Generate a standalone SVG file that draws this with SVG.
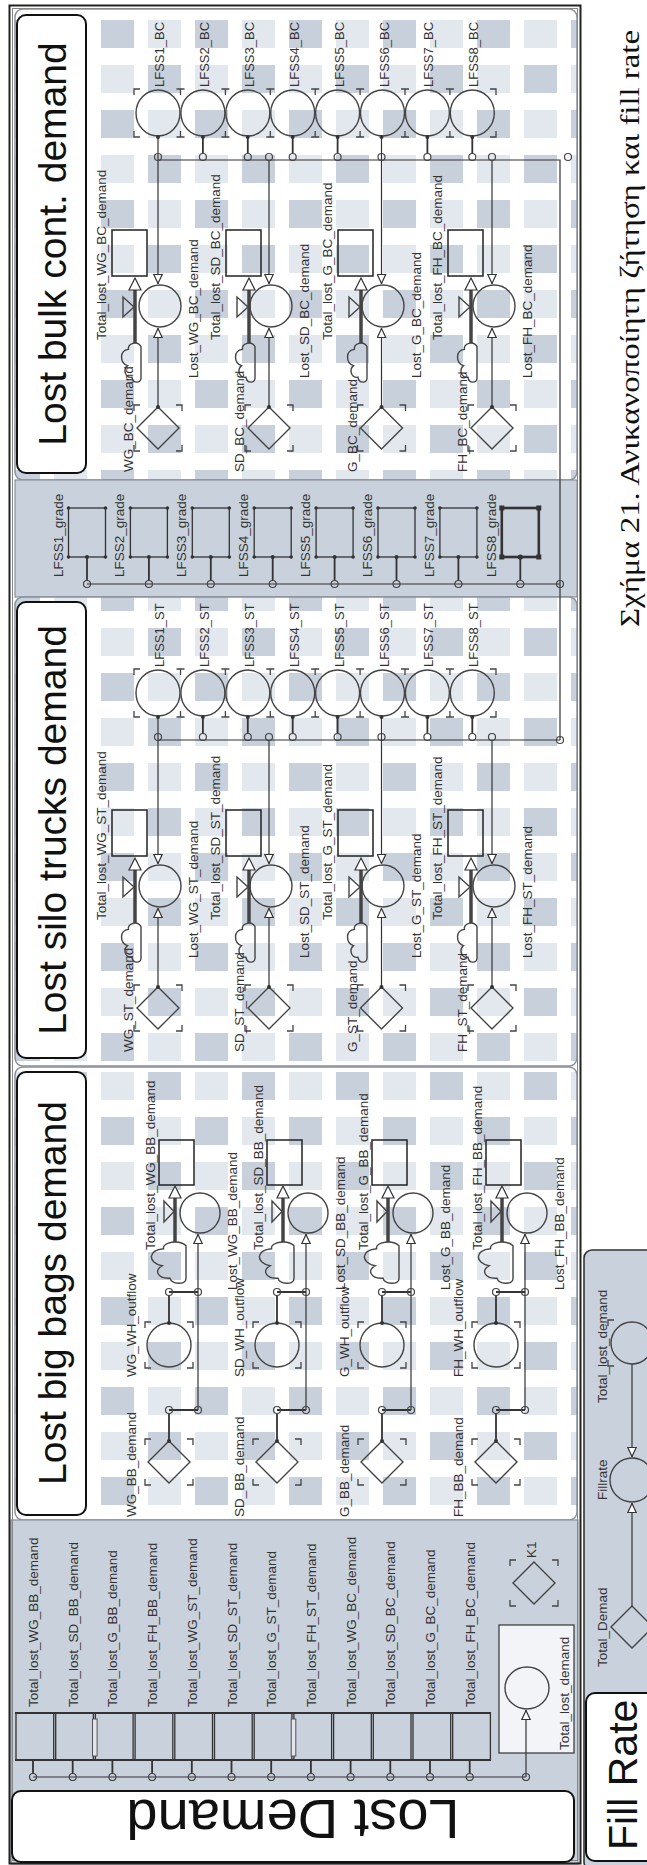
<svg xmlns="http://www.w3.org/2000/svg" width="647" height="1865" viewBox="0 0 647 1865">
<style>
.t{font-family:"Liberation Sans",Arial,sans-serif;font-size:13.5px;fill:#333}
.ts{font-family:"Liberation Sans",Arial,sans-serif;font-size:13px;fill:#333}
.ttl{font-family:"Liberation Sans",Arial,sans-serif;font-size:39px;fill:#111;text-anchor:middle}
.cap{font-family:"Liberation Serif","Times New Roman","DejaVu Serif",serif;font-size:28px;fill:#111}
.ln{stroke:#333;stroke-width:1.2;fill:none}
.lk{stroke:#333;stroke-width:1.8;fill:none}
.nd{stroke:#444;stroke-width:1.4;fill:none}
.st{stroke:#222;stroke-width:1.5;fill:none}
.pipe{stroke:#444;stroke-width:3.5;fill:none}
.br{stroke:#444;stroke-width:1.3;fill:none}
.cc{stroke:#444;stroke-width:1.2;fill:none}
.dot{fill:#333}
.ah{fill:#fff;stroke:#333;stroke-width:1.2}
.lbox{fill:#fff;stroke:#111;stroke-width:2}
.gp{fill:#c9d1dc;stroke:#8a909a;stroke-width:1.2}
.sq{fill:none;stroke:#333;stroke-width:1.3}
.pw{fill:#ffffff}
.pg{fill:#c8d0dc}
.pl{fill:#e3e7ee}
</style>
<defs>
<g id="cell">
<rect width="94" height="90" class="pw"/>
<rect x="0" y="0" width="33" height="28" class="pg"/>
<rect x="47" y="45" width="33" height="28" class="pg"/>
<rect x="47" y="0" width="33" height="28" class="pl"/>
<rect x="0" y="45" width="33" height="28" class="pl"/>
</g>
<pattern id="gbc" patternUnits="userSpaceOnUse" x="7" y="20" width="94" height="90"><use href="#cell"/></pattern>
<pattern id="gst" patternUnits="userSpaceOnUse" x="7" y="673" width="94" height="90"><use href="#cell"/></pattern>
<pattern id="gbb" patternUnits="userSpaceOnUse" x="7" y="1117" width="94" height="90"><use href="#cell"/></pattern>
<marker id="a" viewBox="0 0 10 10" refX="10" refY="5" markerWidth="10" markerHeight="10" markerUnits="userSpaceOnUse" orient="auto"><path d="M0.5,0.8 L9.5,5 L0.5,9.2 Z" fill="#fff" stroke="#333" stroke-width="1.2"/></marker>
<path id="cloud" vector-effect="non-scaling-stroke" d="M10,18 C10,24 1,24 0,17 C-8,18 -10,8 -5,4 C-14,1 -14,-13 -4,-14 C-5,-21 6,-24 10,-17 Z"/>
<path id="dia" d="M0,-21L21,0L0,21L-21,0Z"/>
<path id="brk" d="M-24,-17V-23H-18M18,-23H24V-17M24,17V23H18M-18,23H-24V17"/>
<g id="lfssrow">
<ellipse class="nd" cx="158" cy="113" rx="22" ry="23"/>
<ellipse class="nd" cx="202.9" cy="113" rx="22" ry="23"/>
<ellipse class="nd" cx="247.8" cy="113" rx="22" ry="23"/>
<ellipse class="nd" cx="292.7" cy="113" rx="22" ry="23"/>
<ellipse class="nd" cx="337.6" cy="113" rx="22" ry="23"/>
<ellipse class="nd" cx="382.5" cy="113" rx="22" ry="23"/>
<ellipse class="nd" cx="427.4" cy="113" rx="22" ry="23"/>
<ellipse class="nd" cx="472.3" cy="113" rx="22" ry="23"/>
<path class="br" d="M134,95V89H140M490,89H496V95M496,131V137H490M140,137H134V131M176.5,89H184.5M180.5,89V95M176.5,137H184.5M180.5,137V131M221.4,89H229.4M225.4,89V95M221.4,137H229.4M225.4,137V131M266.3,89H274.3M270.3,89V95M266.3,137H274.3M270.3,137V131M311.2,89H319.2M315.2,89V95M311.2,137H319.2M315.2,137V131M356.1,89H364.1M360.1,89V95M356.1,137H364.1M360.1,137V131M401,89H409M405,89V95M401,137H409M405,137V131M445.9,89H453.9M449.9,89V95M445.9,137H453.9M449.9,137V131"/>
</g>
</defs>
<rect width="647" height="1865" fill="#ffffff"/>

<g id="panels">
<rect x="15" y="9" width="562" height="471" rx="8" fill="url(#gbc)" stroke="#8a909a" stroke-width="1.5"/>
<rect class="gp" x="15" y="480" width="562" height="117"/>
<rect x="15" y="597" width="562" height="469" rx="8" fill="url(#gst)" stroke="#8a909a" stroke-width="1.5"/>
<rect x="15" y="1067" width="562" height="453" rx="8" fill="url(#gbb)" stroke="#8a909a" stroke-width="1.5"/>
<rect class="gp" x="11" y="1520" width="567" height="344"/>
<rect class="gp" x="584" y="1250" width="80" height="620" rx="8" style="stroke:#333;stroke-width:1.6"/>
<rect x="9.5" y="5.5" width="571" height="1858" fill="none" stroke="#222" stroke-width="2"/>
<rect x="12.5" y="8.5" width="565" height="1852" fill="none" stroke="#888" stroke-width="1"/>
</g>

<g id="title-bc"><rect class="lbox" x="17" y="15" width="69" height="458" rx="9"/><text class="ttl" transform="translate(66,244) rotate(-90)">Lost bulk cont. demand</text></g>
<g id="title-st"><rect class="lbox" x="17" y="602" width="69" height="456" rx="9"/><text class="ttl" transform="translate(66,830) rotate(-90)">Lost silo trucks demand</text></g>
<g id="title-bb"><rect class="lbox" x="17" y="1072" width="69" height="443" rx="9"/><text class="ttl" transform="translate(66,1293) rotate(-90)">Lost big bags demand</text></g>
<g id="title-ld"><rect class="lbox" x="12" y="1791" width="562" height="71" rx="9"/><text class="ttl" style="font-size:56px" transform="translate(293,1800) rotate(180)">Lost Demand</text></g>
<g id="title-fr"><rect class="lbox" x="586" y="1693" width="80" height="168" rx="9"/><text class="ttl" style="font-size:41px;text-anchor:start" transform="translate(637,1850) rotate(-90)">Fill Rate</text></g>
<g id="caption"><text class="cap" transform="translate(639,627) rotate(-90)" textLength="597" lengthAdjust="spacingAndGlyphs">Σχήμα 21. Ανικανοποίητη ζήτηση και fill rate</text></g>

<g id="lfss-bc">
<use href="#lfssrow"/>
<text class="ts" transform="translate(164,87) rotate(-90)">LFSS1_BC</text>
<text class="ts" transform="translate(208.9,87) rotate(-90)">LFSS2_BC</text>
<text class="ts" transform="translate(253.8,87) rotate(-90)">LFSS3_BC</text>
<text class="ts" transform="translate(298.7,87) rotate(-90)">LFSS4_BC</text>
<text class="ts" transform="translate(343.6,87) rotate(-90)">LFSS5_BC</text>
<text class="ts" transform="translate(388.5,87) rotate(-90)">LFSS6_BC</text>
<text class="ts" transform="translate(433.4,87) rotate(-90)">LFSS7_BC</text>
<text class="ts" transform="translate(478.3,87) rotate(-90)">LFSS8_BC</text>
</g>
<g id="lfss-st">
<use href="#lfssrow" y="580"/>
<text class="ts" transform="translate(164,667) rotate(-90)">LFSS1_ST</text>
<text class="ts" transform="translate(208.9,667) rotate(-90)">LFSS2_ST</text>
<text class="ts" transform="translate(253.8,667) rotate(-90)">LFSS3_ST</text>
<text class="ts" transform="translate(298.7,667) rotate(-90)">LFSS4_ST</text>
<text class="ts" transform="translate(343.6,667) rotate(-90)">LFSS5_ST</text>
<text class="ts" transform="translate(388.5,667) rotate(-90)">LFSS6_ST</text>
<text class="ts" transform="translate(433.4,667) rotate(-90)">LFSS7_ST</text>
<text class="ts" transform="translate(478.3,667) rotate(-90)">LFSS8_ST</text>
</g>

<g id="grade">
<rect class="sq" x="68.5" y="508" width="37" height="49"/>
<rect class="sq" x="130.4" y="508" width="37" height="49"/>
<rect class="sq" x="192.3" y="508" width="37" height="49"/>
<rect class="sq" x="254.2" y="508" width="37" height="49"/>
<rect class="sq" x="316.1" y="508" width="37" height="49"/>
<rect class="sq" x="378" y="508" width="37" height="49"/>
<rect class="sq" x="439.9" y="508" width="37" height="49"/>
<rect class="sq" x="501.8" y="508" width="37" height="49" style="stroke-width:2.6"/>
<g class="dot">
<circle cx="68.5" cy="508" r="1.8"/><circle cx="105.5" cy="508" r="1.8"/><circle cx="68.5" cy="557" r="1.8"/><circle cx="105.5" cy="557" r="1.8"/>
<circle cx="130.4" cy="508" r="1.8"/><circle cx="167.4" cy="508" r="1.8"/><circle cx="130.4" cy="557" r="1.8"/><circle cx="167.4" cy="557" r="1.8"/>
<circle cx="192.3" cy="508" r="1.8"/><circle cx="229.3" cy="508" r="1.8"/><circle cx="192.3" cy="557" r="1.8"/><circle cx="229.3" cy="557" r="1.8"/>
<circle cx="254.2" cy="508" r="1.8"/><circle cx="291.2" cy="508" r="1.8"/><circle cx="254.2" cy="557" r="1.8"/><circle cx="291.2" cy="557" r="1.8"/>
<circle cx="316.1" cy="508" r="1.8"/><circle cx="353.1" cy="508" r="1.8"/><circle cx="316.1" cy="557" r="1.8"/><circle cx="353.1" cy="557" r="1.8"/>
<circle cx="378" cy="508" r="1.8"/><circle cx="415" cy="508" r="1.8"/><circle cx="378" cy="557" r="1.8"/><circle cx="415" cy="557" r="1.8"/>
<circle cx="439.9" cy="508" r="1.8"/><circle cx="476.9" cy="508" r="1.8"/><circle cx="439.9" cy="557" r="1.8"/><circle cx="476.9" cy="557" r="1.8"/>
<rect x="499.3" y="505.5" width="5" height="5"/><rect x="536.3" y="505.5" width="5" height="5"/><rect x="499.3" y="554.5" width="5" height="5"/><rect x="536.3" y="554.5" width="5" height="5"/>
</g>
<text class="t" transform="translate(62.5,577) rotate(-90)">LFSS1_grade</text>
<text class="t" transform="translate(124.4,577) rotate(-90)">LFSS2_grade</text>
<text class="t" transform="translate(186.3,577) rotate(-90)">LFSS3_grade</text>
<text class="t" transform="translate(248.2,577) rotate(-90)">LFSS4_grade</text>
<text class="t" transform="translate(310.1,577) rotate(-90)">LFSS5_grade</text>
<text class="t" transform="translate(372,577) rotate(-90)">LFSS6_grade</text>
<text class="t" transform="translate(433.9,577) rotate(-90)">LFSS7_grade</text>
<text class="t" transform="translate(495.8,577) rotate(-90)">LFSS8_grade</text>
</g>

<g id="bc-wg">
<rect class="st" x="112" y="230" width="35" height="46"/>
<line class="pipe" x1="135" y1="290" x2="135" y2="343"/><path class="ah" d="M129,290H141L135,278Z"/>
<path class="nd" d="M123,297V317L134,307Z"/>
<circle class="nd" cx="160" cy="306" r="21"/>
<use href="#cloud" class="nd" transform="translate(132,362) scale(0.9)"/>
<use href="#dia" class="nd" x="158" y="428"/><use href="#brk" class="br" x="158" y="428"/>
<text class="t" transform="translate(106,340) rotate(-90)">Total_lost_WG_BC_demand</text>
<text class="t" transform="translate(198,378) rotate(-90)">Lost_WG_BC_demand</text>
<text class="t" transform="translate(133,472) rotate(-90)">WG_BC_demand</text>
</g>
<g id="bc-sd">
<rect class="st" x="226" y="230" width="35" height="46"/>
<line class="pipe" x1="249" y1="290" x2="249" y2="343"/><path class="ah" d="M243,290H255L249,278Z"/>
<path class="nd" d="M237,297V317L248,307Z"/>
<circle class="nd" cx="271" cy="306" r="21"/>
<use href="#cloud" class="nd" transform="translate(246,362) scale(0.9)"/>
<use href="#dia" class="nd" x="269" y="428"/><use href="#brk" class="br" x="269" y="428"/>
<text class="t" transform="translate(220,340) rotate(-90)">Total_lost_SD_BC_demand</text>
<text class="t" transform="translate(309,378) rotate(-90)">Lost_SD_BC_demand</text>
<text class="t" transform="translate(244,472) rotate(-90)">SD_BC_demand</text>
</g>
<g id="bc-g">
<rect class="st" x="338" y="230" width="35" height="46"/>
<line class="pipe" x1="361" y1="290" x2="361" y2="343"/><path class="ah" d="M355,290H367L361,278Z"/>
<path class="nd" d="M349,297V317L360,307Z"/>
<circle class="nd" cx="383" cy="306" r="21"/>
<use href="#cloud" class="nd" transform="translate(358,362) scale(0.9)"/>
<use href="#dia" class="nd" x="381.5" y="428"/><use href="#brk" class="br" x="381.5" y="428"/>
<text class="t" transform="translate(332,340) rotate(-90)">Total_lost_G_BC_demand</text>
<text class="t" transform="translate(421,378) rotate(-90)">Lost_G_BC_demand</text>
<text class="t" transform="translate(356.5,472) rotate(-90)">G_BC_demand</text>
</g>
<g id="bc-fh">
<rect class="st" x="448" y="230" width="35" height="46"/>
<line class="pipe" x1="471" y1="290" x2="471" y2="343"/><path class="ah" d="M465,290H477L471,278Z"/>
<path class="nd" d="M459,297V317L470,307Z"/>
<circle class="nd" cx="494" cy="306" r="21"/>
<use href="#cloud" class="nd" transform="translate(468,362) scale(0.9)"/>
<use href="#dia" class="nd" x="492" y="428"/><use href="#brk" class="br" x="492" y="428"/>
<text class="t" transform="translate(442,340) rotate(-90)">Total_lost_FH_BC_demand</text>
<text class="t" transform="translate(532,378) rotate(-90)">Lost_FH_BC_demand</text>
<text class="t" transform="translate(467,472) rotate(-90)">FH_BC_demand</text>
</g>

<g id="st-wg">
<rect class="st" x="112" y="810" width="35" height="46"/>
<line class="pipe" x1="135" y1="870" x2="135" y2="923"/><path class="ah" d="M129,870H141L135,858Z"/>
<path class="nd" d="M123,877V897L134,887Z"/>
<circle class="nd" cx="160" cy="886" r="21"/>
<use href="#cloud" class="nd" transform="translate(132,942) scale(0.9)"/>
<use href="#dia" class="nd" x="158" y="1008"/><use href="#brk" class="br" x="158" y="1008"/>
<text class="t" transform="translate(106,920) rotate(-90)">Total_lost_WG_ST_demand</text>
<text class="t" transform="translate(198,958) rotate(-90)">Lost_WG_ST_demand</text>
<text class="t" transform="translate(133,1052) rotate(-90)">WG_ST_demand</text>
</g>
<g id="st-sd">
<rect class="st" x="226" y="810" width="35" height="46"/>
<line class="pipe" x1="249" y1="870" x2="249" y2="923"/><path class="ah" d="M243,870H255L249,858Z"/>
<path class="nd" d="M237,877V897L248,887Z"/>
<circle class="nd" cx="271" cy="886" r="21"/>
<use href="#cloud" class="nd" transform="translate(246,942) scale(0.9)"/>
<use href="#dia" class="nd" x="269" y="1008"/><use href="#brk" class="br" x="269" y="1008"/>
<text class="t" transform="translate(220,920) rotate(-90)">Total_lost_SD_ST_demand</text>
<text class="t" transform="translate(309,958) rotate(-90)">Lost_SD_ST_demand</text>
<text class="t" transform="translate(244,1052) rotate(-90)">SD_ST_demand</text>
</g>
<g id="st-g">
<rect class="st" x="338" y="810" width="35" height="46"/>
<line class="pipe" x1="361" y1="870" x2="361" y2="923"/><path class="ah" d="M355,870H367L361,858Z"/>
<path class="nd" d="M349,877V897L360,887Z"/>
<circle class="nd" cx="383" cy="886" r="21"/>
<use href="#cloud" class="nd" transform="translate(358,942) scale(0.9)"/>
<use href="#dia" class="nd" x="381.5" y="1008"/><use href="#brk" class="br" x="381.5" y="1008"/>
<text class="t" transform="translate(332,920) rotate(-90)">Total_lost_G_ST_demand</text>
<text class="t" transform="translate(421,958) rotate(-90)">Lost_G_ST_demand</text>
<text class="t" transform="translate(356.5,1052) rotate(-90)">G_ST_demand</text>
</g>
<g id="st-fh">
<rect class="st" x="448" y="810" width="35" height="46"/>
<line class="pipe" x1="471" y1="870" x2="471" y2="923"/><path class="ah" d="M465,870H477L471,858Z"/>
<path class="nd" d="M459,877V897L470,887Z"/>
<circle class="nd" cx="494" cy="886" r="21"/>
<use href="#cloud" class="nd" transform="translate(468,942) scale(0.9)"/>
<use href="#dia" class="nd" x="492" y="1008"/><use href="#brk" class="br" x="492" y="1008"/>
<text class="t" transform="translate(442,920) rotate(-90)">Total_lost_FH_ST_demand</text>
<text class="t" transform="translate(532,958) rotate(-90)">Lost_FH_ST_demand</text>
<text class="t" transform="translate(467,1052) rotate(-90)">FH_ST_demand</text>
</g>

<g id="bb-wg">
<rect class="st" x="159" y="1140" width="35" height="45"/>
<line class="pipe" x1="175" y1="1198" x2="175" y2="1242"/><path class="ah" d="M169,1198H181L175,1186Z"/>
<path class="nd" d="M164,1201V1222L174,1211.5Z"/>
<circle class="nd" cx="200" cy="1213" r="20"/>
<use href="#cloud" class="nd" transform="translate(170,1262) scale(1.6,0.95)"/>
<circle class="nd" cx="169" cy="1345" r="22"/><use href="#brk" class="br" x="169" y="1345"/>
<use href="#dia" class="nd" x="169" y="1462"/><use href="#brk" class="br" x="169" y="1462"/>
<text class="t" transform="translate(155,1250) rotate(-90)">Total_lost_WG_BB_demand</text>
<text class="t" transform="translate(237,1290) rotate(-90)">Lost_WG_BB_demand</text>
<text class="t" transform="translate(136,1377) rotate(-90)">WG_WH_outflow</text>
<text class="t" transform="translate(136,1517) rotate(-90)">WG_BB_demand</text>
</g>
<g id="bb-sd">
<rect class="st" x="267" y="1140" width="35" height="45"/>
<line class="pipe" x1="283" y1="1198" x2="283" y2="1242"/><path class="ah" d="M277,1198H289L283,1186Z"/>
<path class="nd" d="M272,1201V1222L282,1211.5Z"/>
<circle class="nd" cx="308" cy="1213" r="20"/>
<use href="#cloud" class="nd" transform="translate(278,1262) scale(1.6,0.95)"/>
<circle class="nd" cx="277" cy="1345" r="22"/><use href="#brk" class="br" x="277" y="1345"/>
<use href="#dia" class="nd" x="277" y="1462"/><use href="#brk" class="br" x="277" y="1462"/>
<text class="t" transform="translate(263,1250) rotate(-90)">Total_lost_SD_BB_demand</text>
<text class="t" transform="translate(345,1290) rotate(-90)">Lost_SD_BB_demand</text>
<text class="t" transform="translate(244,1377) rotate(-90)">SD_WH_outflow</text>
<text class="t" transform="translate(244,1517) rotate(-90)">SD_BB_demand</text>
</g>
<g id="bb-g">
<rect class="st" x="372" y="1140" width="35" height="45"/>
<line class="pipe" x1="388" y1="1198" x2="388" y2="1242"/><path class="ah" d="M382,1198H394L388,1186Z"/>
<path class="nd" d="M377,1201V1222L387,1211.5Z"/>
<circle class="nd" cx="413" cy="1213" r="20"/>
<use href="#cloud" class="nd" transform="translate(383,1262) scale(1.6,0.95)"/>
<circle class="nd" cx="382" cy="1345" r="22"/><use href="#brk" class="br" x="382" y="1345"/>
<use href="#dia" class="nd" x="382" y="1462"/><use href="#brk" class="br" x="382" y="1462"/>
<text class="t" transform="translate(368,1250) rotate(-90)">Total_lost_G_BB_demand</text>
<text class="t" transform="translate(450,1290) rotate(-90)">Lost_G_BB_demand</text>
<text class="t" transform="translate(349,1377) rotate(-90)">G_WH_outflow</text>
<text class="t" transform="translate(349,1517) rotate(-90)">G_BB_demand</text>
</g>
<g id="bb-fh">
<rect class="st" x="486" y="1140" width="35" height="45"/>
<line class="pipe" x1="502" y1="1198" x2="502" y2="1242"/><path class="ah" d="M496,1198H508L502,1186Z"/>
<path class="nd" d="M491,1201V1222L501,1211.5Z"/>
<circle class="nd" cx="527" cy="1213" r="20"/>
<use href="#cloud" class="nd" transform="translate(497,1262) scale(1.6,0.95)"/>
<circle class="nd" cx="496" cy="1345" r="22"/><use href="#brk" class="br" x="496" y="1345"/>
<use href="#dia" class="nd" x="496" y="1462"/><use href="#brk" class="br" x="496" y="1462"/>
<text class="t" transform="translate(482,1250) rotate(-90)">Total_lost_FH_BB_demand</text>
<text class="t" transform="translate(564,1290) rotate(-90)">Lost_FH_BB_demand</text>
<text class="t" transform="translate(463,1377) rotate(-90)">FH_WH_outflow</text>
<text class="t" transform="translate(463,1517) rotate(-90)">FH_BB_demand</text>
</g>

<g id="lost-stocks">
<g class="sq">
<rect x="16" y="1713" width="37.7" height="47"/><rect x="55.7" y="1713" width="37.7" height="47"/><rect x="95.4" y="1713" width="37.7" height="47"/><rect x="135.1" y="1713" width="37.7" height="47"/><rect x="174.8" y="1713" width="37.7" height="47"/><rect x="214.5" y="1713" width="37.7" height="47"/><rect x="254.2" y="1713" width="37.7" height="47"/><rect x="293.9" y="1713" width="37.7" height="47"/><rect x="333.6" y="1713" width="37.7" height="47"/><rect x="373.3" y="1713" width="37.7" height="47"/><rect x="413" y="1713" width="37.7" height="47"/><rect x="452.7" y="1713" width="37.7" height="47"/>
</g>
<path d="M15,1713H491M15,1760H491" stroke="#333" stroke-width="2"/>
<rect x="92.5" y="1719" width="4.6" height="37" fill="#e2e6ec" stroke="#555" stroke-width="1"/>
<rect x="291.2" y="1719" width="4.6" height="37" fill="#e2e6ec" stroke="#555" stroke-width="1"/>
<text class="t" transform="translate(38,1707) rotate(-90)">Total_lost_WG_BB_demand</text>
<text class="t" transform="translate(77.7,1707) rotate(-90)">Total_lost_SD_BB_demand</text>
<text class="t" transform="translate(117.4,1707) rotate(-90)">Total_lost_G_BB_demand</text>
<text class="t" transform="translate(157.1,1707) rotate(-90)">Total_lost_FH_BB_demand</text>
<text class="t" transform="translate(196.8,1707) rotate(-90)">Total_lost_WG_ST_demand</text>
<text class="t" transform="translate(236.5,1707) rotate(-90)">Total_lost_SD_ST_demand</text>
<text class="t" transform="translate(276.2,1707) rotate(-90)">Total_lost_G_ST_demand</text>
<text class="t" transform="translate(315.9,1707) rotate(-90)">Total_lost_FH_ST_demand</text>
<text class="t" transform="translate(355.6,1707) rotate(-90)">Total_lost_WG_BC_demand</text>
<text class="t" transform="translate(395.3,1707) rotate(-90)">Total_lost_SD_BC_demand</text>
<text class="t" transform="translate(435,1707) rotate(-90)">Total_lost_G_BC_demand</text>
<text class="t" transform="translate(474.7,1707) rotate(-90)">Total_lost_FH_BC_demand</text>
</g>
<g id="total-lost-demand">
<rect x="499" y="1625" width="75" height="128" fill="#f2f4f7" stroke="#333" stroke-width="1.2"/>
<ellipse class="nd" cx="527" cy="1688" rx="22" ry="21"/>
<text class="t" transform="translate(569,1750) rotate(-90)">Total_lost_demand</text>
</g>
<g id="k1">
<use href="#dia" class="nd" x="534" y="1583"/><use href="#brk" class="br" x="534" y="1583"/>
<text class="t" transform="translate(536,1558) rotate(-90)">K1</text>
</g>

<g id="fr-total-lost">
<circle class="nd" cx="632" cy="1343" r="21"/><use href="#brk" class="br" x="632" y="1343"/>
<text class="t" transform="translate(607,1403) rotate(-90)">Total_lost_demand</text>
</g>
<g id="fr-fillrate">
<circle class="nd" cx="632" cy="1480" r="22"/>
<text class="t" transform="translate(607,1500) rotate(-90)">Fillrate</text>
</g>
<g id="fr-total-demand">
<use href="#dia" class="nd" x="632" y="1627"/>
<text class="t" transform="translate(607,1667) rotate(-90)">Total_Demad</text>
</g>

<g id="connectors">
<path class="lk" d="M202.9,137V153.5M247.8,137V153.5M292.7,137V153.5M337.6,137V153.5M427.4,137V153.5M472.3,137V153.5"/>
<path class="ln" d="M158,160H560V740"/>
<line class="ln" x1="158" y1="137" x2="158" y2="284" marker-end="url(#a)"/>
<line class="ln" x1="269" y1="160" x2="269" y2="284" marker-end="url(#a)"/>
<line class="ln" x1="381.5" y1="137" x2="381.5" y2="284" marker-end="url(#a)"/>
<line class="ln" x1="492" y1="160" x2="492" y2="284" marker-end="url(#a)"/>
<line class="ln" x1="158" y1="407" x2="158" y2="328" marker-end="url(#a)"/>
<line class="ln" x1="269" y1="407" x2="269" y2="328" marker-end="url(#a)"/>
<line class="ln" x1="381.5" y1="407" x2="381.5" y2="328" marker-end="url(#a)"/>
<line class="ln" x1="492" y1="407" x2="492" y2="328" marker-end="url(#a)"/>
<g class="cc">
<circle cx="158" cy="157" r="3.5"/><circle cx="202.9" cy="157" r="3.5"/><circle cx="247.8" cy="157" r="3.5"/><circle cx="269" cy="157" r="3.5"/><circle cx="292.7" cy="157" r="3.5"/><circle cx="337.6" cy="157" r="3.5"/><circle cx="381.5" cy="157" r="3.5"/><circle cx="427.4" cy="157" r="3.5"/><circle cx="472.3" cy="157" r="3.5"/><circle cx="492" cy="157" r="3.5"/><circle cx="568" cy="157" r="3.5"/>
</g>
<g class="dot">
<circle cx="158" cy="137" r="2"/><circle cx="202.9" cy="137" r="2"/><circle cx="247.8" cy="137" r="2"/><circle cx="292.7" cy="137" r="2"/><circle cx="337.6" cy="137" r="2"/><circle cx="381.5" cy="137" r="2"/><circle cx="427.4" cy="137" r="2"/><circle cx="472.3" cy="137" r="2"/>
<circle cx="158" cy="407" r="2"/><circle cx="269" cy="407" r="2"/><circle cx="381.5" cy="407" r="2"/><circle cx="492" cy="407" r="2"/>
</g>
<path class="lk" d="M87,557V580M148.9,557V580M210.8,557V580M272.7,557V580M334.6,557V580M396.5,557V580M458.4,557V580M520.3,557V580"/>
<path class="ln" d="M87,584H560"/>
<g class="cc">
<circle cx="87" cy="584" r="3.5"/><circle cx="148.9" cy="584" r="3.5"/><circle cx="210.8" cy="584" r="3.5"/><circle cx="272.7" cy="584" r="3.5"/><circle cx="334.6" cy="584" r="3.5"/><circle cx="396.5" cy="584" r="3.5"/><circle cx="458.4" cy="584" r="3.5"/><circle cx="520.3" cy="584" r="3.5"/><circle cx="560" cy="584" r="3.5"/>
</g>
<g class="dot"><circle cx="87" cy="557" r="2"/><circle cx="148.9" cy="557" r="2"/><circle cx="210.8" cy="557" r="2"/><circle cx="272.7" cy="557" r="2"/><circle cx="334.6" cy="557" r="2"/><circle cx="396.5" cy="557" r="2"/><circle cx="458.4" cy="557" r="2"/><circle cx="520.3" cy="557" r="2.6"/></g>
<path class="lk" d="M202.9,717V733.5M247.8,717V733.5M292.7,717V733.5M337.6,717V733.5M427.4,717V733.5M472.3,717V733.5"/>
<path class="ln" d="M158,740H560"/>
<line class="ln" x1="158" y1="717" x2="158" y2="864" marker-end="url(#a)"/>
<line class="ln" x1="269" y1="740" x2="269" y2="864" marker-end="url(#a)"/>
<line class="ln" x1="381.5" y1="717" x2="381.5" y2="864" marker-end="url(#a)"/>
<line class="ln" x1="492" y1="740" x2="492" y2="864" marker-end="url(#a)"/>
<line class="ln" x1="158" y1="987" x2="158" y2="908" marker-end="url(#a)"/>
<line class="ln" x1="269" y1="987" x2="269" y2="908" marker-end="url(#a)"/>
<line class="ln" x1="381.5" y1="987" x2="381.5" y2="908" marker-end="url(#a)"/>
<line class="ln" x1="492" y1="987" x2="492" y2="908" marker-end="url(#a)"/>
<g class="cc">
<circle cx="158" cy="737" r="3.5"/><circle cx="202.9" cy="737" r="3.5"/><circle cx="247.8" cy="737" r="3.5"/><circle cx="269" cy="737" r="3.5"/><circle cx="292.7" cy="737" r="3.5"/><circle cx="337.6" cy="737" r="3.5"/><circle cx="381.5" cy="737" r="3.5"/><circle cx="427.4" cy="737" r="3.5"/><circle cx="472.3" cy="737" r="3.5"/><circle cx="492" cy="737" r="3.5"/><circle cx="560" cy="740" r="3.5"/>
</g>
<g class="dot">
<circle cx="158" cy="717" r="2"/><circle cx="202.9" cy="717" r="2"/><circle cx="247.8" cy="717" r="2"/><circle cx="292.7" cy="717" r="2"/><circle cx="337.6" cy="717" r="2"/><circle cx="381.5" cy="717" r="2"/><circle cx="427.4" cy="717" r="2"/><circle cx="472.3" cy="717" r="2"/>
<circle cx="158" cy="987" r="2"/><circle cx="269" cy="987" r="2"/><circle cx="381.5" cy="987" r="2"/><circle cx="492" cy="987" r="2"/>
</g>
<line class="ln" x1="198" y1="1410" x2="198" y2="1234" marker-end="url(#a)"/>
<line class="ln" x1="306" y1="1410" x2="306" y2="1234" marker-end="url(#a)"/>
<line class="ln" x1="411" y1="1410" x2="411" y2="1234" marker-end="url(#a)"/>
<line class="ln" x1="525" y1="1410" x2="525" y2="1234" marker-end="url(#a)"/>
<path class="lk" d="M169,1292H198M169,1410H198M169,1323V1295.5M169,1441V1413.5M277,1292H306M277,1410H306M277,1323V1295.5M277,1441V1413.5M382,1292H411M382,1410H411M382,1323V1295.5M382,1441V1413.5M496,1292H525M496,1410H525M496,1323V1295.5M496,1441V1413.5"/>
<g class="cc">
<circle cx="169" cy="1292" r="3.5"/><circle cx="198" cy="1292" r="3.5"/><circle cx="169" cy="1410" r="3.5"/><circle cx="198" cy="1410" r="3.5"/>
<circle cx="277" cy="1292" r="3.5"/><circle cx="306" cy="1292" r="3.5"/><circle cx="277" cy="1410" r="3.5"/><circle cx="306" cy="1410" r="3.5"/>
<circle cx="382" cy="1292" r="3.5"/><circle cx="411" cy="1292" r="3.5"/><circle cx="382" cy="1410" r="3.5"/><circle cx="411" cy="1410" r="3.5"/>
<circle cx="496" cy="1292" r="3.5"/><circle cx="525" cy="1292" r="3.5"/><circle cx="496" cy="1410" r="3.5"/><circle cx="525" cy="1410" r="3.5"/>
</g>
<g class="dot"><circle cx="169" cy="1323" r="2"/><circle cx="169" cy="1441" r="2"/><circle cx="277" cy="1323" r="2"/><circle cx="277" cy="1441" r="2"/><circle cx="382" cy="1323" r="2"/><circle cx="382" cy="1441" r="2"/><circle cx="496" cy="1323" r="2"/><circle cx="496" cy="1441" r="2"/></g>
<path class="lk" d="M33,1760V1773.5M72.7,1760V1773.5M112.4,1760V1773.5M152.1,1760V1773.5M191.8,1760V1773.5M231.5,1760V1773.5M271.2,1760V1773.5M310.9,1760V1773.5M350.6,1760V1773.5M390.3,1760V1773.5M430,1760V1773.5M469.7,1760V1773.5"/>
<path class="ln" d="M33,1777H526"/>
<line class="ln" x1="526" y1="1777" x2="526" y2="1710" marker-end="url(#a)"/>
<g class="cc">
<circle cx="33" cy="1777" r="3.5"/><circle cx="72.7" cy="1777" r="3.5"/><circle cx="112.4" cy="1777" r="3.5"/><circle cx="152.1" cy="1777" r="3.5"/><circle cx="191.8" cy="1777" r="3.5"/><circle cx="231.5" cy="1777" r="3.5"/><circle cx="271.2" cy="1777" r="3.5"/><circle cx="310.9" cy="1777" r="3.5"/><circle cx="350.6" cy="1777" r="3.5"/><circle cx="390.3" cy="1777" r="3.5"/><circle cx="430" cy="1777" r="3.5"/><circle cx="469.7" cy="1777" r="3.5"/><circle cx="526" cy="1777" r="3.5"/>
</g>
<line class="ln" x1="632" y1="1364" x2="632" y2="1457" marker-end="url(#a)"/>
<line class="ln" x1="632" y1="1606" x2="632" y2="1503" marker-end="url(#a)"/>
</g>
</svg>
